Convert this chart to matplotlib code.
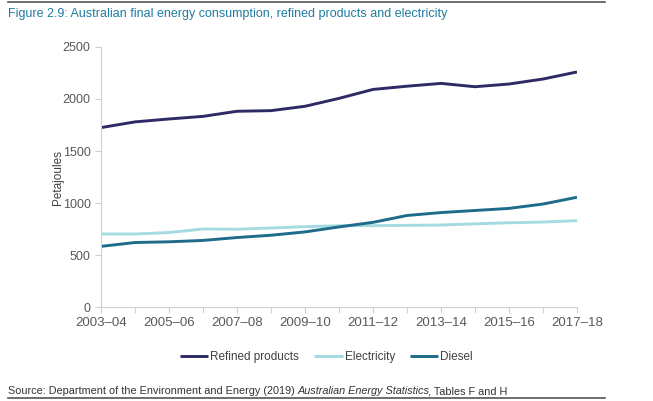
import matplotlib.pyplot as plt
from matplotlib.lines import Line2D

plt.rcParams['font.family'] = ['Liberation Sans', 'DejaVu Sans']

years = ['2003–04', '2004–05', '2005–06', '2006–07', '2007–08', '2008–09', '2009–10',
         '2010–11', '2011–12', '2012–13', '2013–14', '2014–15', '2015–16', '2016–17', '2017–18']
refined = [1725, 1780, 1808, 1833, 1882, 1888, 1930, 2006, 2092, 2123, 2150, 2118, 2144, 2192, 2260]
electricity = [702, 702, 716, 750, 748, 760, 772, 782, 782, 785, 788, 800, 810, 817, 830]
diesel = [583, 620, 627, 640, 668, 690, 722, 770, 814, 880, 908, 928, 948, 990, 1055]

fig = plt.figure(figsize=(6.53, 4.01), dpi=100)
ax = fig.add_axes([0.1547, 0.2344, 0.7289, 0.6484])

x = range(len(years))
ax.plot(x, refined, color='#2d2a66', lw=2.1, label='Refined products', solid_capstyle='butt')
ax.plot(x, electricity, color='#a3dbe0', lw=2.1, label='Electricity', solid_capstyle='butt')
ax.plot(x, diesel, color='#1e6b8c', lw=2.1, label='Diesel', solid_capstyle='butt')

ax.set_xlim(0, len(years) - 1)
ax.set_ylim(0, 2500)
ax.set_yticks([0, 500, 1000, 1500, 2000, 2500])
ax.set_xticks(list(x))
ax.set_xticklabels([y if i % 2 == 0 else '' for i, y in enumerate(years)])

for s in ['top', 'right']:
    ax.spines[s].set_visible(False)
for s in ['left', 'bottom']:
    ax.spines[s].set_color('#d0d0d0')
    ax.spines[s].set_linewidth(0.8)
ax.tick_params(colors='#d0d0d0', labelcolor='#595959', labelsize=9, length=4, width=0.8)
ax.tick_params(axis='x', labelsize=9.5)
ax.set_ylabel('Petajoules', fontsize=8.5, color='#404040', labelpad=-1)

fig.legend(loc='center', bbox_to_anchor=(0.5, 0.11), ncol=3, frameon=False,
           fontsize=8.5, handlelength=2.4, handletextpad=0.15, columnspacing=1.3,
           labelcolor='#404040')

fig.add_artist(Line2D([8 / 653, 605 / 653], [1 - 2 / 401] * 2, color='#555555', lw=1.2))
fig.add_artist(Line2D([8 / 653, 605 / 653], [1 - 398 / 401] * 2, color='#555555', lw=1.2))

fig.text(8 / 653, 1 - 14 / 401, 'Figure 2.9: Australian final energy consumption, refined products and electricity',
         fontsize=9, color='#1f7ca0', va='center', ha='left')

# source line in three pieces so the title of the publication can be italic
src_y = 1 - 394 / 401
W = fig.bbox.width
t1 = fig.text(8 / 653, src_y, 'Source: Department of the Environment and Energy (2019) ',
              fontsize=7.8, color='#333333', va='baseline', ha='left')
fig.canvas.draw()
r = fig.canvas.get_renderer()
bb = t1.get_window_extent(r)
t2 = fig.text(bb.x1 / W, src_y, 'Australian Energy Statistics',
              fontsize=7.8, color='#333333', va='baseline', ha='left', fontstyle='italic')
bb2 = t2.get_window_extent(r)
fig.text((bb2.x1 - 1.5) / W, src_y, ', Tables F and H',
         fontsize=7.8, color='#333333', va='baseline', ha='left')

fig.savefig('out.png', dpi=100)
